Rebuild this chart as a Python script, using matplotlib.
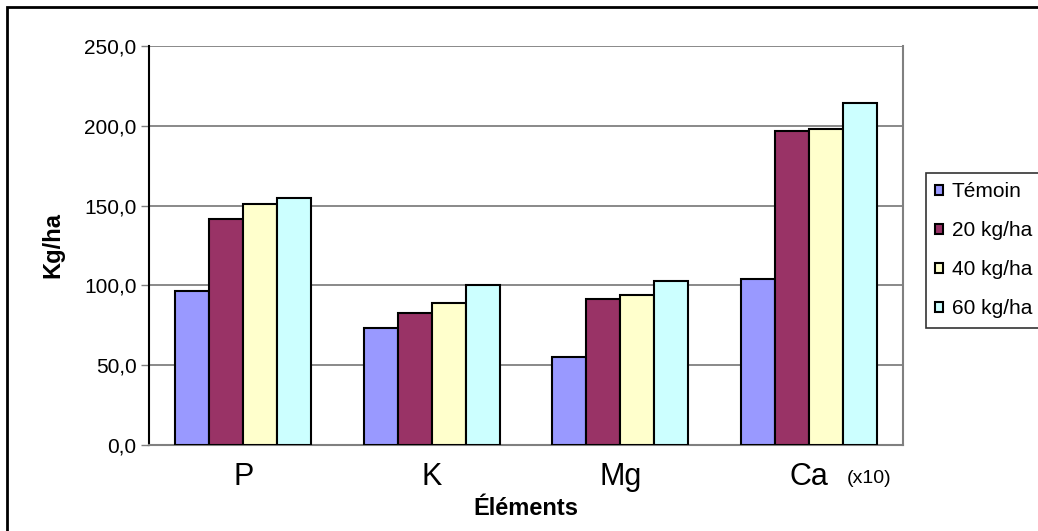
import numpy as np
import matplotlib
matplotlib.use("Agg")
from matplotlib import pyplot as plt
from matplotlib.patches import Rectangle

# data
elements = ["P", "K", "Mg", "Ca"]
series = ["Témoin", "20 kg/ha", "40 kg/ha", "60 kg/ha"]
temoin = [96.5, 73.0, 55.0, 103.7]
dose_20 = [141.3, 82.7, 91.4, 196.7]
dose_40 = [151.2, 88.9, 93.8, 197.9]
dose_60 = [154.9, 100.0, 102.5, 214.0]
yticks = [0, 50, 100, 150, 200, 250]
colors = ["#9999FF", "#993366", "#FFFFCC", "#CCFFFF"]

plt.rcParams['font.family'] = ['Liberation Sans', 'DejaVu Sans']

fig = plt.figure(figsize=(10.38, 5.31), dpi=100)
ax = fig.add_axes([149/1038, 1 - 445/531, (903 - 149)/1038, (445 - 46)/531])

x = np.arange(len(elements))
w = 0.18
values = [temoin, dose_20, dose_40, dose_60]
for i, vals in enumerate(values):
    ax.bar(x + (i - 1.5)*w, vals, w, color=colors[i], edgecolor="black",
           linewidth=1.5, label=series[i], zorder=3)

ax.set_xlim(-0.5, len(elements) - 0.5)
ax.set_ylim(0, 250)
ax.set_yticks(yticks)
ax.set_yticklabels([f"{v:.1f}".replace(".", ",") for v in yticks], fontsize=15)
ax.yaxis.grid(True, color="#808080", linewidth=1.3, zorder=0)
ax.set_xticks(x)
ax.set_xticklabels(elements, fontsize=22)
ax.tick_params(axis="x", length=0, pad=12)
ax.tick_params(axis="y", length=6, width=1, color="#808080", direction="out", pad=3)
ax.text(3.2, -0.062, "(x10)", transform=ax.get_xaxis_transform(),
        fontsize=14, ha="left", va="top")

ax.spines["top"].set_visible(False)
ax.spines["left"].set_color("black")
ax.spines["right"].set_color("#808080")
ax.spines["bottom"].set_color("#808080")
for s in ["left", "right", "bottom"]:
    ax.spines[s].set_linewidth(1.5)

ax.set_ylabel("Kg/ha", fontsize=17, fontweight="bold")
ax.yaxis.set_label_coords(-0.112, 0.5)
ax.set_xlabel("Éléments", fontsize=17, fontweight="bold", labelpad=4)

leg = fig.legend(loc="upper left", bbox_to_anchor=(926/1038, 1 - 173/531 - 0.01, 150/1038, 0.01),
                 mode="expand", borderaxespad=0, fontsize=15, handlelength=0.38,
                 handleheight=0.38, handletextpad=0.4, labelspacing=0.96,
                 fancybox=False, frameon=True, borderpad=0.45)
leg.get_frame().set_edgecolor("black")
leg.get_frame().set_linewidth(1.2)

# outer chart border
fig.add_artist(Rectangle((7/1038, -0.1), 2, 1.1 - 7/531, transform=fig.transFigure,
                         fill=False, edgecolor="black", linewidth=2))

fig.savefig("out.png", dpi=100)
